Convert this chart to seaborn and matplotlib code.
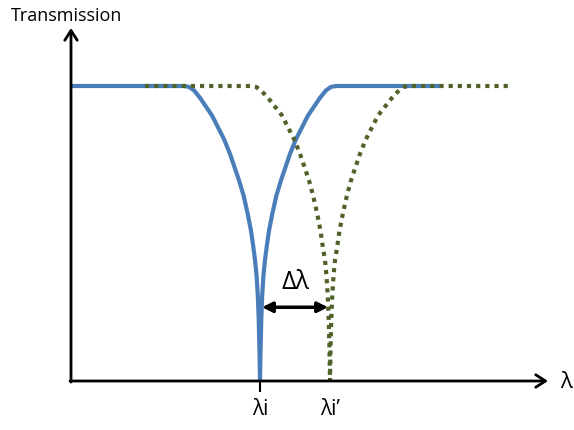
import matplotlib
matplotlib.use("Agg")
import matplotlib.pyplot as plt
import seaborn as sns
import pandas as pd

sns.set_style("white")
plt.rcParams["font.family"] = ["Open Sans", "DejaVu Sans"]
plt.rcParams["text.color"] = "black"
plt.rcParams["xtick.color"] = "black"

# Resonance dip at lambda_i (solid) and the shifted dip at lambda_i' (dotted)
wl_i = [1, 113, 118, 123, 129, 135, 141, 147, 153, 159, 164, 168, 172.5, 176.5,
        180, 182.5, 184, 185.5, 186.8, 187.7, 188.5, 189,
        189.5, 190.3, 191.2, 192.5, 194, 195.5, 198, 201.5, 205.5, 210, 214, 219,
        225, 231, 237, 243, 249, 255, 260, 265, 369]
tr_i = [1.0, 1.0, 0.997, 0.985, 0.96, 0.93, 0.90, 0.86, 0.82, 0.77, 0.72, 0.68,
        0.63, 0.57, 0.51, 0.45, 0.41, 0.36, 0.29, 0.21, 0.10, 0.0,
        0.10, 0.21, 0.29, 0.36, 0.41, 0.45, 0.51, 0.57, 0.63, 0.68, 0.72, 0.77,
        0.82, 0.86, 0.90, 0.93, 0.96, 0.985, 0.997, 1.0, 1.0]

wl_s = [74, 180, 185, 190, 197, 204, 211, 217, 223, 229, 234, 238, 242, 246,
        249.5, 252, 254, 255.4, 256.7, 257.7, 258.5, 259,
        259.5, 260.3, 261.3, 262.6, 264, 266, 268.5, 272, 276, 280, 284, 289,
        295, 301, 307, 314, 321, 328, 333, 338, 439]
tr_s = [1.0, 1.0, 0.997, 0.985, 0.96, 0.93, 0.90, 0.86, 0.82, 0.77, 0.72, 0.68,
        0.63, 0.57, 0.51, 0.45, 0.41, 0.36, 0.29, 0.21, 0.10, 0.0,
        0.10, 0.21, 0.29, 0.36, 0.41, 0.45, 0.51, 0.57, 0.63, 0.68, 0.72, 0.77,
        0.82, 0.86, 0.90, 0.93, 0.96, 0.985, 0.997, 1.0, 1.0]

peak_pos = [189, 259]
peak_labels = ["λi", "λi’"]
shift_level = 0.25

blue = "#4A7EBB"
olive = "#4F6228"

fig = plt.figure(figsize=(5.74, 4.30), dpi=100)
ax = fig.add_axes([71 / 574, 49 / 430, 477 / 574, 353 / 430])
ax.set_xlim(0, 477)
ax.set_ylim(0, 353 / 295)

df_i = pd.DataFrame({"wl": wl_i, "T": tr_i})
df_s = pd.DataFrame({"wl": wl_s, "T": tr_s})

# solid dip first, dotted shifted dip drawn over it
sns.lineplot(data=df_i, x="wl", y="T", ax=ax, sort=False, estimator=None,
             color=blue, lw=3.0, solid_joinstyle="round")
sns.lineplot(data=df_s, x="wl", y="T", ax=ax, sort=False, estimator=None,
             color=olive, lw=3.0, linestyle=(0, (1, 1.2)), dash_capstyle="butt")

# Axis arrows
for s in ax.spines.values():
    s.set_visible(False)
arrow_kw = dict(arrowstyle="->,head_length=0.7,head_width=0.45", lw=2.0, color="black",
                shrinkA=0, shrinkB=0)
ax.annotate("", xy=(1, 0), xytext=(-0.002, 0), xycoords="axes fraction",
            arrowprops=arrow_kw, annotation_clip=False)
ax.annotate("", xy=(0, 1), xytext=(0, -0.003), xycoords="axes fraction",
            arrowprops=arrow_kw, annotation_clip=False)

# Wavelength ticks
ax.set_xticks(peak_pos)
ax.set_xticklabels(peak_labels, fontsize=15)
ax.set_yticks([])
ax.tick_params(axis="x", direction="out", length=8, width=1.5, pad=5,
               bottom=True, color="black", labelcolor="black")
ax.xaxis.get_major_ticks()[1].tick1line.set_visible(False)
ax.set_xlabel("")
ax.set_ylabel("")

# Shift between the two dips
ax.annotate("", xy=(peak_pos[1] - 2, shift_level), xytext=(peak_pos[0] + 2, shift_level),
            arrowprops=dict(arrowstyle="<|-|>,head_length=0.6,head_width=0.3",
                            lw=2.5, color="black", shrinkA=0, shrinkB=0))
ax.text((peak_pos[0] + peak_pos[1]) / 2, shift_level + 0.04, "Δλ",
        ha="center", va="bottom", fontsize=18, color="black")

fig.text(67 / 574, 1 - 16 / 430, "Transmission", ha="center", va="center",
         fontsize=13, color="black")
fig.text(566 / 574, 1 - 383 / 430, "λ", ha="center", va="center", fontsize=16,
         color="black")

fig.savefig("out.png", dpi=100, facecolor="white")
